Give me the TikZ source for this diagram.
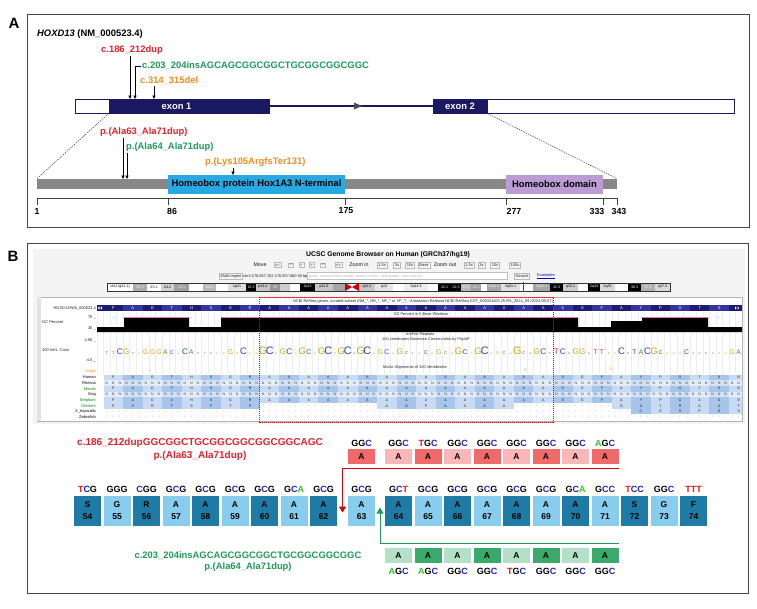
\documentclass[tikz,border=0pt]{standalone}
\usepackage{fontspec}
\setmainfont{Liberation Sans}
\usetikzlibrary{arrows.meta}

\definecolor{navy}{HTML}{1B1862}
\definecolor{redtxt}{HTML}{E62129}
\definecolor{greentxt}{HTML}{1E9B57}
\definecolor{orangetxt}{HTML}{F68B1F}
\definecolor{ntA}{HTML}{22CC22}
\definecolor{ntC}{HTML}{1F1FD6}
\definecolor{ntT}{HTML}{E8141B}
\definecolor{boxdark}{HTML}{1E7BA6}
\definecolor{boxlight}{HTML}{88CDEE}
\definecolor{reddark}{HTML}{F06A6A}
\definecolor{redlight}{HTML}{F9B7B7}
\definecolor{grndark}{HTML}{3AA96B}
\definecolor{grnlight}{HTML}{B4E0C7}
\definecolor{hoxblue}{HTML}{29A9E1}
\definecolor{homeo}{HTML}{BB9CD3}
\definecolor{protgray}{HTML}{878787}
\definecolor{aanavy}{HTML}{1D1D70}
\definecolor{aanavy2}{HTML}{34349A}
\definecolor{alnA}{HTML}{C9DBF2}
\definecolor{alnB}{HTML}{A7C4EA}
\definecolor{nA}{HTML}{E4EDF8}
\definecolor{nB}{HTML}{D2E1F4}
\definecolor{consA}{HTML}{2E9E2E}
\definecolor{consC}{HTML}{2A3FD0}
\definecolor{consG}{HTML}{D2A214}
\definecolor{consT}{HTML}{D42A2A}
\definecolor{browserbg}{HTML}{F4F4F4}
\definecolor{gcpink}{HTML}{F06EB4}

\newcommand\ntc[1]{\if#1A\textcolor{ntA}{A}\else\if#1C\textcolor{ntC}{C}\else\if#1T\textcolor{ntT}{T}\else#1\fi\fi\fi}
\def\codsplit#1#2#3\relax{\ntc{#1}\ntc{#2}\ntc{#3}}
\newcommand\codm[1]{\expandafter\codsplit#1\relax}
\newcommand\cletter[1]{\if#1A\textcolor{consA}{A}\else\if#1C\textcolor{consC}{C}\else\if#1G\textcolor{consG}{G}\else\textcolor{consT}{T}\fi\fi\fi}

\tikzset{
  panel/.style={draw=gray!55!black, line width=0.9pt},
  panellabel/.style={font=\bfseries\fontsize{15}{15}\selectfont, inner sep=0},
  lab/.style={font=\bfseries\fontsize{9.4}{11}\selectfont, inner sep=1pt},
  mutarrow/.style={-{Triangle[length=3.5pt,width=3.2pt]}, line width=0.5pt, black},
  dashlink/.style={gray!50!black, line width=0.5pt, dash pattern=on 1.5pt off 1pt},
  numf/.style={font=\bfseries\fontsize{8.8}{10}\selectfont, inner sep=0},
  tiny/.style={font=\fontsize{4}{4.5}\selectfont, inner sep=0, text=gray!25!black},
  btn/.style={draw=gray!55, fill=gray!8, font=\fontsize{4}{4.5}\selectfont, inner xsep=1.2pt, inner ysep=1.3pt, text=gray!30!black},
  alnf/.style={font=\fontsize{3.6}{4}\selectfont, inner sep=0, text=gray!25!black},
  codon/.style={font=\bfseries\fontsize{9}{10}\selectfont, inner sep=0},
  aabox/.style={minimum width=27pt, minimum height=30pt, inner sep=0, align=center, font=\bfseries\fontsize{8.5}{12}\selectfont},
  dupbox/.style={minimum width=27pt, minimum height=15pt, inner sep=0, font=\bfseries\fontsize{8.5}{10}\selectfont},
}

\newcommand\aarow[3]{\foreach \ltr [count=\kk from 0] in {#2}{%
  \pgfmathsetmacro\xl{103.5+19.545*\kk}%
  \if\ltr-%
    \foreach \jj in {0,1,2}{\node[alnf] (#3\kk-\jj) at ({\xl+3.26+6.515*\jj},{#1+2.85}) {-};}%
  \else
    \ifodd\kk\def\fc{alnB}\else\def\fc{alnA}\fi
    \fill[\fc] (\xl,#1) rectangle ++(19.545,5.7);
    \node[alnf] (#3\kk) at ({\xl+9.77},{#1+2.85}) {\ltr};
  \fi}}
\newcommand\nrow[2]{%
  \foreach \kk in {0,...,32}{\pgfmathsetmacro\xl{103.5+19.545*\kk}\ifodd\kk\def\fc{nB}\else\def\fc{nA}\fi\fill[\fc] (\xl,#1) rectangle ++(19.545,5.7);}
  \foreach \bb in {1,...,98}{\node[alnf, text=gray!55!black] (#2\bb) at ({100.26+6.515*\bb},{#1+2.85}) {N};}}

\begin{document}
\begin{tikzpicture}[x=1pt,y=-1pt]
\useasboundingbox (0,0) rectangle (757,608);
\fill[white] (0,0) rectangle (757,608);

%%%%%%%%%%%%%%%% Panel A
\node[panellabel] (labA) at (14,23) {A};
\draw[panel] (27,14) rectangle (749,227);
\node[lab, anchor=west] (gene) at (36,34) {\textit{HOXD13} (NM\_000523.4)};

\node[lab, anchor=west, text=redtxt] (m1) at (100,50) {c.186\_212dup};
\node[lab, anchor=west, text=greentxt] (m2) at (141,66) {c.203\_204insAGCAGCGGCGGCTGCGGCGGCGGC};
\node[lab, anchor=west, text=orangetxt] (m3) at (139,81) {c.314\_315del};

\node[draw=navy, fill=white, line width=1pt, minimum width=34pt, minimum height=14pt, inner sep=0] (utr1) at (92,106) {};
\node[draw=navy, fill=navy, line width=1pt, minimum width=160pt, minimum height=14pt, inner sep=0] (ex1) at (189,106) {};
\node[lab, text=white] (ex1lab) at (176.5,106) {exon 1};
\node[draw=navy, fill=navy, line width=1pt, minimum width=54pt, minimum height=14pt, inner sep=0, lab, text=white] (ex2) at (460,106) {exon 2};
\node[draw=navy, fill=white, line width=1pt, minimum width=247pt, minimum height=14pt, inner sep=0] (utr2) at (610.5,106) {};
\draw[navy, line width=1.5pt] (ex1.east) -- (ex2.west);
\fill[gray!60!black] (354,102.5) -- (362,106) -- (354,109.5) -- cycle;

\coordinate (t1) at (130,99);
\coordinate (t2) at (135,99);
\coordinate (t3) at (154,99);
\draw[mutarrow] (m1.south -| t1) -- (t1);
\draw[mutarrow] (m2.west) -| (t2);
\draw[mutarrow] (m3.south -| t3) -- (t3);

\node[fill=protgray, minimum width=580pt, minimum height=10pt, inner sep=0] (bar) at (327,184) {};
\node[fill=hoxblue, minimum width=177pt, minimum height=19pt, inner sep=0, lab] (hox) at (256.5,184.5) {Homeobox protein Hox1A3 N-terminal};
\node[fill=homeo, minimum width=97pt, minimum height=19pt, inner sep=0, lab] (hbox) at (554.5,184.5) {Homeobox domain};

\draw[dashlink] (ex1.south west) -- (bar.north west);
\draw[dashlink] (ex2.south east) -- (bar.north east);

\coordinate (ax0) at (37,198);
\coordinate (ax1) at (617,198);
\draw[gray!50!black, line width=0.5pt] (ax0) -- (ax1);
\foreach \x/\nn/\lx in {37/1/37, 168.5/86/172, 345/175/346, 506.5/277/514, 603/333/597, 617/343/619}{
  \draw[gray!50!black, line width=0.5pt] (\x,198) -- (\x,205);
  \node[numf] (tick\nn) at (\lx,211) {\nn};
}

\node[lab, anchor=west, text=redtxt] (p1) at (99,132) {p.(Ala63\_Ala71dup)};
\node[lab, anchor=west, text=greentxt] (p2) at (125,147) {p.(Ala64\_Ala71dup)};
\node[lab, anchor=west, text=orangetxt] (p3) at (204,162) {p.(Lys105ArgfsTer131)};
\coordinate (tp1) at (123,179);
\coordinate (tp2) at (127,179);
\coordinate (tp3) at (233,175);
\draw[mutarrow] (p1.south -| tp1) -- (tp1);
\draw[mutarrow] (p2.south -| tp2) -- (tp2);
\draw[mutarrow] (p3.south -| tp3) -- (tp3);

%%%%%%%%%%%%%%%% Panel B
\node[panellabel] (labB) at (13,256) {B};
\draw[panel] (27,243) rectangle (748,593);

% browser screenshot
\fill[browserbg] (33,249) rectangle (745,424);
\node[font=\bfseries\fontsize{6.8}{7}\selectfont] (ucsc) at (388,255) {UCSC Genome Browser on Human (GRCh37/hg19)};
\node[font=\fontsize{5.3}{6}\selectfont, text=gray!20!black, inner sep=0] (mv) at (260,265) {Move};
\foreach \tx/\x [count=\ii] in {{<<<}/277.5, {<<}/291, {<}/301.5, {>}/311.5, {>>}/323, {>>>}/338.5, {1.5x}/382, {3x}/397, {10x}/410, {Base}/424, {1.5x}/469, {3x}/481.5, {10x}/495, {100x}/515}{
  \node[btn] (mb\ii) at (\x,265) {\tx};
}
\node[font=\fontsize{5.3}{6}\selectfont, text=gray!20!black, inner sep=0] (zin) at (359,265) {Zoom in};
\node[font=\fontsize{5.3}{6}\selectfont, text=gray!20!black, inner sep=0] (zout) at (445,265) {Zoom out};
\node[btn] (multi) at (231,276) {Multi-region};
\node[font=\fontsize{3.9}{4.5}\selectfont, text=gray!25!black, inner sep=0, anchor=west] (pos) at (243,276) {chr2:176,957,762-176,957,860 90 bp.};
\node[draw=gray!50, fill=white, minimum width=200pt, minimum height=7pt, inner sep=0] (srch) at (407,276) {};
\node[font=\fontsize{3.9}{4.5}\selectfont, text=gray!55, inner sep=0, anchor=west] (srchtxt) at (309,276) {gene, chromosome range, search terms, help pages, see exampl};
\node[btn] (sbtn) at (522,276) {Search};
\node[font=\fontsize{4}{4.5}\selectfont, text=blue!70!black, inner sep=0] (exmp) at (546,276) {\underline{Examples}};

% ideogram
\foreach \xa/\xb/\fc/\tx/\tc [count=\ii] in {
 107/133/white/chr2 (q31.1)/black, 133/147/gray!65/25.3/white, 147/161/white/25.1/black,
 161/174/gray!35/24.2/black, 174/189/gray!75/24.1/white, 189/203/white//black,
 203/216/gray!55/22.3/white, 216/228/white//black, 228/246/gray!25/2p21/black,
 246/256/black/16.3/white, 256/270/gray!45/p16.1/black, 270/280/gray!80/15/white,
 280/290/gray!40//black, 290/300/white//black, 300/315/black/2p12/white,
 315/333/gray!45/p11.2/black, 333/345/gray!70//white, 359/375/gray!45/q11.2/black,
 375/393/gray!20/q13/black, 393/404/white//black, 404/428/gray!15/2q14.3/black,
 428/438/white//black, 438/451/black/22.1/white, 451/461/black/22.3/white,
 461/471/gray!55/23.3/white, 471/481/gray!75/24.1/white, 481/487/white//black,
 487/501/gray!70/2q24.3/white, 501/520/gray!25/2q31.1/black, 520/533/white//black,
 533/550/gray!70/2q32.1/white, 550/563/black/32.3/white, 563/578/gray!40/q33.1/black,
 578/588/white//black, 588/600/black/2q34/white, 600/615/gray!30/2q35/black,
 615/628/white//black, 628/641/black/36.3/white, 641/655/gray!60/37.1/white,
 655/670/gray!30/q37.3/black}{
  \fill[\fc] (\xa,283) rectangle (\xb,291);
  \node[font=\fontsize{3.6}{4}\selectfont, text=\tc, inner sep=0] (band\ii) at ({(\xa+\xb)/2},287) {\tx};
}
\fill[red!80!black] (345,283) -- (352,287) -- (345,291) -- cycle;
\fill[red!80!black] (359,283) -- (352,287) -- (359,291) -- cycle;
\draw[gray!40!black, line width=0.4pt] (107,283) rectangle (670,291);
\draw[red, line width=1pt] (523,282) -- (523,292);

% track image
\draw[gray!60, fill=white, line width=0.4pt] (37,297) rectangle (742,421);
\fill[gray!22] (37.2,297.2) rectangle (41,420.8);
\begin{scope}
\clip (97,297) rectangle (742,421);
\foreach \bb in {0,...,99}{\draw[gray!14, line width=0.3pt] ({97+6.515*\bb},312) -- ({97+6.515*\bb},374);}
\node[font=\fontsize{3.9}{4.5}\selectfont, text=gray!30!black, inner sep=0] (refseq) at (423,301.5) {NCBI RefSeq genes, curated subset (NM\_*, NR\_*, NP\_* or YP\_*) - Annotation Release NCBI RefSeq GCF\_000001405.25-RS\_2024\_09 (2024-09-07)};
% navy amino-acid bar
\fill[aanavy] (97,305) rectangle (742,311);
\foreach \ltr [count=\kk from 0] in {F,A,G,T,H,S,G,R,A,A,A,A,A,A,A,A,A,A,A,A,A,A,A,S,G,F,A,Y,P,G,T,S}{
  \pgfmathsetmacro\xl{103.5+19.545*\kk}
  \ifodd\kk\def\fc{aanavy2}\else\def\fc{aanavy}\fi
  \fill[\fc] (\xl,305) rectangle ++(19.545,6);
  \node[font=\fontsize{4}{4.5}\selectfont, text=white, inner sep=0] (nv\kk) at ({\xl+9.77},308) {\ltr};
}
\fill[white] (99.5,306.3) -- (97.8,308) -- (99.5,309.7) -- cycle;
\fill[white] (102,306.3) -- (100.3,308) -- (102,309.7) -- cycle;
\fill[white] (735,306.3) -- (736.7,308) -- (735,309.7) -- cycle;
\fill[white] (737.5,306.3) -- (739.2,308) -- (737.5,309.7) -- cycle;
% GC percent
\node[font=\fontsize{3.9}{4.5}\selectfont, text=gray!30!black, inner sep=0] (gctitle) at (421,314.5) {GC Percent in 5-Base Windows};
\fill[black] (97,332) -- (97,327) -- (124,327) -- (124,317) -- (189,317) -- (189,327) -- (221,327) -- (221,317) -- (578,317) -- (578,327) -- (611,327) -- (611,321) -- (642,321) -- (642,317) -- (708,317) -- (708,327) -- (742,327) -- (742,332) -- cycle;
\draw[gcpink, line width=0.5pt] (124,316.8) -- (189,316.8) (221,316.8) -- (578,316.8) (642,316.8) -- (708,316.8);
% conservation
\node[font=\fontsize{3.9}{4.5}\selectfont, text=gray!30!black, inner sep=0] (uniprot) at (420,334) {UniProt Repeats};
\node[font=\fontsize{3.9}{4.5}\selectfont, text=gray!30!black, inner sep=0] (phylop) at (426,339) {100 vertebrates Basewise Conservation by PhyloP};
\foreach \bb/\lt/\sz in {1/T/3, 2/T/3, 3/C/6, 4/G/6, 5/C/2, 6/G/2, 7/G/5, 8/G/5, 9/G/5, 10/A/5, 11/C/4, 12/G/2, 13/C/6, 14/A/5, 15/C/2, 16/T/2, 17/C/2, 18/G/2, 19/G/2, 20/G/5, 21/G/2, 22/C/7, 23/G/2, 24/G/2, 25/G/8, 26/C/8, 27/G/2, 28/G/6, 29/C/6, 30/G/2, 31/G/7, 32/C/5, 33/G/2, 34/G/7, 35/C/8, 36/G/2, 37/G/7, 38/C/8, 39/A/2, 40/G/8, 41/C/8, 42/G/2, 43/G/5, 44/C/5, 45/G/2, 46/G/6, 47/C/3, 48/T/2, 49/G/2, 50/C/4, 51/G/2, 52/G/5, 53/C/3, 54/G/2, 55/G/7, 56/C/5, 57/G/2, 58/G/7, 59/C/8, 60/G/2, 61/G/3, 62/C/3, 63/G/2, 64/G/8, 65/C/3, 66/A/2, 67/G/6, 68/C/6, 69/C/2, 70/T/6, 71/C/6, 72/C/2, 73/G/6, 74/G/6, 75/C/2, 76/T/5, 77/T/5, 78/T/2, 79/G/2, 80/C/7, 81/C/2, 82/T/5, 83/A/5, 84/C/7, 85/G/7, 86/C/4, 87/G/2, 88/G/2, 89/G/2, 90/C/5, 91/A/2, 92/C/2, 93/C/2, 94/A/2, 95/G/2, 96/G/2, 97/G/5, 98/A/5}{
  \pgfmathsetmacro\szz{1.35*\sz}
  \node[anchor=base, inner sep=0, font=\fontsize{\szz}{\szz}\selectfont] (cv\bb) at ({100.26+6.515*\bb},354) {\cletter{\lt}};
}
\node[font=\fontsize{3.9}{4.5}\selectfont, text=gray!30!black, inner sep=0] (multiz) at (415,367) {Multiz Alignments of 100 Vertebrates};
\node[font=\fontsize{4}{4.5}\selectfont, text=orangetxt, inner sep=0] (gp1) at (150,371) {+};
\node[font=\fontsize{4}{4.5}\selectfont, text=orangetxt, inner sep=0] (gp2) at (525,370) {3};
\node[font=\fontsize{4}{4.5}\selectfont, text=orangetxt, inner sep=0] (gp3) at (611,369) {1};
% alignments
\aarow{374.5}{F,A,G,T,H,S,G,R,A,A,A,A,A,A,A,A,A,A,A,A,A,A,A,S,G,F,A,Y,P,G,T,S,E}{hu}
\nrow{380.2}{rh}
\aarow{385.9}{F,A,G,T,H,S,G,R,A,A,A,A,A,A,A,A,A,A,A,A,A,A,A,S,S,F,A,Y,P,G,T,S,E}{mo}
\nrow{391.6}{dg}
\aarow{397.3}{F,A,G,A,H,S,G,R,A,A,A,A,A,A,A,A,A,A,A,A,A,A,A,S,G,F,A,Y,P,G,A,S,E}{el}
\aarow{403.0}{P,V,R,T,S,F,T,P,-,-,-,-,-,-,A,N,F,A,A,A,A,-,-,-,-,-,G,A,T,R,A,A,T}{ch}
\aarow{408.7}{-,-,-,-,-,-,-,-,-,-,-,-,-,-,-,-,-,-,-,-,-,-,-,-,-,-,-,C,S,S,P,S,V}{xt}
\aarow{414.4}{-,-,-,-,-,-,-,-,-,-,-,-,-,-,-,-,-,-,-,-,-,-,-,-,-,-,-,-,-,-,-,-,-}{zf}
\end{scope}
% track labels
\node[tiny, anchor=east] (lhox) at (96,308) {HOXD13/NM\_000523.4};
\node[tiny, anchor=east] (l70) at (96,317) {70 \_};
\node[tiny, anchor=west] (lgc) at (42,322) {GC Percent};
\node[tiny, anchor=east] (l30) at (96,328) {30 \_};
\node[tiny, anchor=east] (l488) at (96,340) {4.88 \_};
\node[tiny, anchor=west] (lcons) at (42,350) {100 Vert. Cons};
\node[tiny, anchor=east] (l45) at (96,361) {-4.5 \_};
\node[tiny, anchor=east, text=orangetxt] (lgaps) at (96,372) {Gaps};
\foreach \nm/\y/\tc [count=\ii] in {Human/377.4/black, Rhesus/383.1/black, Mouse/388.8/green!50!black, Dog/394.5/black, Elephant/400.2/green!50!black, Chicken/405.9/green!50!black, X\_tropicalis/411.6/black, Zebrafish/417.3/black}{
  \node[tiny, anchor=east, text=\tc] (sp\ii) at (96,\y) {\nm};
}
\draw[red, line width=0.6pt, dash pattern=on 1.2pt off 0.8pt] (259,297) rectangle (553,422);

% sequences
\node[font=\bfseries\fontsize{10}{12}\selectfont, text=redtxt, inner sep=0] (dupc) at (200,443) {c.186\_212dupGGCGGCTGCGGCGGCGGCGGCAGC};
\node[font=\bfseries\fontsize{10}{12}\selectfont, text=redtxt, inner sep=0] (dupp) at (200,455.5) {p.(Ala63\_Ala71dup)};
\node[font=\bfseries\fontsize{9.4}{12}\selectfont, text=greentxt, inner sep=0] (insc) at (248,556) {c.203\_204insAGCAGCGGCGGCTGCGGCGGCGGC};
\node[font=\bfseries\fontsize{9.4}{12}\selectfont, text=greentxt, inner sep=0] (insp) at (248,567.5) {p.(Ala64\_Ala71dup)};

\foreach \cd/\am/\nn/\xl [count=\ii] in {TCG/S/54/74, GGG/G/55/103.5, CGG/R/56/133, GCG/A/57/162.5, GCG/A/58/192, GCG/A/59/221.5, GCG/A/60/251, GCA/A/61/280.5, GCG/A/62/310, GCG/A/63/348, GCT/A/64/385, GCG/A/65/414.5, GCG/A/66/444, GCG/A/67/473.5, GCG/A/68/503, GCG/A/69/532.5, GCA/A/70/562, GCC/A/71/591.5, TCC/S/72/621, GGC/G/73/650.5, TTT/F/74/680}{
  \ifodd\ii\def\fc{boxdark}\else\def\fc{boxlight}\fi
  \node[aabox, fill=\fc] (aa\nn) at ({\xl+13.5},511) {\am\\\nn};
  \node[codon] (cd\nn) at ({\xl+13.5},489.5) {\codm{\cd}};
}

\foreach \cd/\x [count=\ii] in {GGC/361.5, GGC/398.5, TGC/428, GGC/457.5, GGC/487, GGC/516.5, GGC/546, GGC/575.5, AGC/605}{
  \ifodd\ii\def\fc{reddark}\else\def\fc{redlight}\fi
  \node[dupbox, fill=\fc] (rd\ii) at (\x,456.5) {A};
  \node[codon] (rc\ii) at (\x,443) {\codm{\cd}};
}
\foreach \cd/\x [count=\ii] in {AGC/398.5, AGC/428, GGC/457.5, GGC/487, TGC/516.5, GGC/546, GGC/575.5, GGC/605}{
  \ifodd\ii\def\fc{grnlight}\else\def\fc{grndark}\fi
  \node[dupbox, fill=\fc] (gd\ii) at (\x,555.5) {A};
  \node[codon] (gc\ii) at (\x,571.5) {\codm{\cd}};
}

\coordinate (redR) at (619,468);
\coordinate (redC) at (342.5,468);
\coordinate (redT) at (342.5,512.5);
\draw[red!85!black, line width=0.8pt, -{Triangle[length=6pt,width=7pt]}] (redR) -- (redC) -- (redT);
\coordinate (grnR) at (619,543);
\coordinate (grnC) at (380,543);
\coordinate (grnT) at (380,507.5);
\draw[greentxt, line width=0.8pt, -{Triangle[length=6pt,width=7pt]}] (grnR) -- (grnC) -- (grnT);
\end{tikzpicture}
\end{document}
